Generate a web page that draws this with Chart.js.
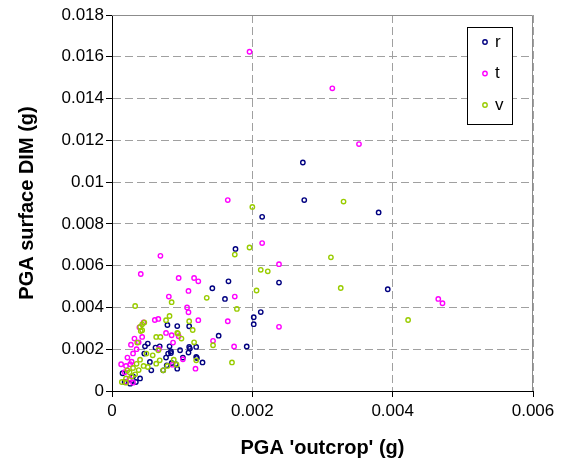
<!DOCTYPE html>
<html>
<head>
<meta charset="utf-8">
<script src="https://cdn.jsdelivr.net/npm/chart.js@4/dist/chart.umd.min.js"></script>
<style>
    body { margin: 0; background: #fff; }
    #wrap { width: 568px; height: 468px; }
</style>
</head>
<body>
<div id="wrap"><canvas id="pgaChart" width="568" height="468"></canvas></div>
<script>
// Values (g)
const seriesNames = ['r', 't', 'v'];
const seriesColors = ['#000080', '#FF00FF', '#99CC00'];

const rOutcrop = [0.00272, 0.00274, 0.00380, 0.00214, 0.00238, 0.00393, 0.00212, 0.00202, 0.00202, 0.00176,
    0.00166, 0.00143, 0.00161, 0.00093, 0.00079, 0.00110, 0.00152, 0.00120, 0.00110, 0.00192,
    0.00121, 0.00129, 0.00109, 0.00101, 0.00084, 0.00077, 0.00091, 0.00093, 0.00082, 0.00097,
    0.00047, 0.00046, 0.00018, 0.00034, 0.00015, 0.00051, 0.00062, 0.00068, 0.00080, 0.00084,
    0.00054, 0.00085, 0.00078, 0.00056, 0.00073, 0.00111, 0.00120, 0.00040, 0.00026, 0.00030];
const rSurface = [0.01094, 0.00914, 0.00855, 0.00834, 0.00519, 0.00487, 0.00378, 0.00353, 0.00320, 0.00680,
    0.00525, 0.00492, 0.00441, 0.00311, 0.00316, 0.00310, 0.00265, 0.00211, 0.00211, 0.00213,
    0.00158, 0.00137, 0.00184, 0.00160, 0.00182, 0.00160, 0.00129, 0.00107, 0.00214, 0.00195,
    0.00214, 0.00179, 0.00043, 0.00043, 0.00085, 0.00227, 0.00208, 0.00214, 0.00179, 0.00190,
    0.00139, 0.00134, 0.00123, 0.00099, 0.00099, 0.00203, 0.00163, 0.00060, 0.00035, 0.00070];

const tOutcrop = [0.00196, 0.00314, 0.00352, 0.00165, 0.00214, 0.00238, 0.00465, 0.00471, 0.00238, 0.00069,
    0.00095, 0.00117, 0.00123, 0.00041, 0.00109, 0.00175, 0.00081, 0.00107, 0.00109, 0.00066,
    0.00061, 0.00123, 0.00165, 0.00039, 0.00077, 0.00095, 0.00087, 0.00144, 0.00174, 0.00032,
    0.00043, 0.00038, 0.00119, 0.00101, 0.00067, 0.00086, 0.00027, 0.00026, 0.00013, 0.00021,
    0.00085, 0.00045, 0.00022, 0.00030, 0.00035, 0.00028, 0.00018, 0.00025, 0.00030, 0.00020];
const tSurface = [0.01624, 0.01449, 0.01182, 0.00914, 0.00708, 0.00607, 0.00441, 0.00420, 0.00307, 0.00647,
    0.00541, 0.00541, 0.00525, 0.00560, 0.00479, 0.00452, 0.00452, 0.00400, 0.00377, 0.00345,
    0.00340, 0.00339, 0.00334, 0.00305, 0.00278, 0.00262, 0.00232, 0.00240, 0.00213, 0.00251,
    0.00259, 0.00233, 0.00107, 0.00152, 0.00201, 0.00126, 0.00222, 0.00128, 0.00128, 0.00043,
    0.00267, 0.00328, 0.00160, 0.00180, 0.00200, 0.00140, 0.00090, 0.00060, 0.00040, 0.00120];

const vOutcrop = [0.00330, 0.00200, 0.00196, 0.00312, 0.00212, 0.00222, 0.00326, 0.00206, 0.00422, 0.00175,
    0.00135, 0.00085, 0.00033, 0.00178, 0.00082, 0.00077, 0.00110, 0.00046, 0.00043, 0.00043,
    0.00115, 0.00093, 0.00099, 0.00117, 0.00144, 0.00171, 0.00079, 0.00073, 0.00041, 0.00036,
    0.00022, 0.00014, 0.00020, 0.00063, 0.00069, 0.00094, 0.00066, 0.00058, 0.00049, 0.00068,
    0.00088, 0.00092, 0.00051, 0.00063, 0.00120, 0.00040, 0.00025, 0.00030, 0.00035, 0.00040,
    0.00028, 0.00033, 0.00020, 0.00038, 0.00045];
const vSurface = [0.00907, 0.00881, 0.00687, 0.00640, 0.00580, 0.00573, 0.00493, 0.00481, 0.00340, 0.00653,
    0.00446, 0.00425, 0.00407, 0.00393, 0.00359, 0.00339, 0.00334, 0.00328, 0.00319, 0.00291,
    0.00292, 0.00278, 0.00251, 0.00233, 0.00219, 0.00137, 0.00120, 0.00099, 0.00287, 0.00232,
    0.00099, 0.00043, 0.00040, 0.00259, 0.00259, 0.00275, 0.00195, 0.00171, 0.00179, 0.00147,
    0.00150, 0.00126, 0.00115, 0.00131, 0.00147, 0.00307, 0.00090, 0.00110, 0.00130, 0.00150,
    0.00070, 0.00080, 0.00060, 0.00100, 0.00120];

const xTicks = [0, 0.002, 0.004, 0.006];
const yTicks = [0, 0.002, 0.004, 0.006, 0.008, 0.01, 0.012, 0.014, 0.016, 0.018];

const FONT = 'Arial, "Liberation Sans", sans-serif';

function toPoints(xs, ys) {
    return xs.map((x, i) => ({ x: x, y: ys[i] }));
}

// gray frame on top/right + boxed legend inside the plot
const framePlugin = {
    id: 'frame',
    afterDatasetsDraw(chart) {
        const { ctx, chartArea: a } = chart;
        ctx.save();
        ctx.strokeStyle = '#8c8c8c';
        ctx.lineWidth = 1;
        ctx.beginPath();
        ctx.moveTo(a.left, a.top + 0.5);
        ctx.lineTo(a.right - 0.5, a.top + 0.5);
        ctx.lineTo(a.right - 0.5, a.bottom);
        ctx.stroke();
        ctx.restore();
    },
    afterDraw(chart) {
        const { ctx, chartArea: a } = chart;
        const boxL = a.right - 66, boxT = a.top + 12;
        const boxW = 45, boxH = 97;
        ctx.save();
        ctx.fillStyle = '#fff';
        ctx.fillRect(boxL, boxT, boxW, boxH);
        ctx.strokeStyle = '#000';
        ctx.lineWidth = 1;
        ctx.strokeRect(boxL + 0.5, boxT + 0.5, boxW, boxH);
        ctx.font = '17px ' + FONT;
        ctx.textBaseline = 'middle';
        chart.data.datasets.forEach((ds, i) => {
            const cy = boxT + 15 + i * 31.5;
            ctx.beginPath();
            ctx.arc(boxL + 18, cy, 2.2, 0, Math.PI * 2);
            ctx.strokeStyle = ds.borderColor;
            ctx.lineWidth = 1.4;
            ctx.stroke();
            ctx.fillStyle = '#000';
            ctx.fillText(ds.label, boxL + 28, cy);
        });
        ctx.restore();
    }
};

const seriesData = [
    toPoints(rOutcrop, rSurface),
    toPoints(tOutcrop, tSurface),
    toPoints(vOutcrop, vSurface)
];

const datasets = seriesNames.map((name, i) => ({
    label: name,
    data: seriesData[i],
    borderColor: seriesColors[i],
    backgroundColor: 'rgba(0,0,0,0)',
    pointRadius: 2.2,
    pointBorderWidth: 1.4,
    pointHoverRadius: 2.2,
    order: seriesNames.length - i
}));

function tickLabel(v) {
    return String(Number(v.toFixed(3)));
}

const ctx = document.getElementById('pgaChart').getContext('2d');
new Chart(ctx, {
    type: 'scatter',
    data: { datasets: datasets },
    plugins: [framePlugin],
    options: {
        responsive: false,
        animation: false,
        layout: { padding: { left: 0, top: 15, right: 35, bottom: 0 } },
        plugins: {
            legend: { display: false },
            tooltip: { enabled: false }
        },
        scales: {
            x: {
                type: 'linear',
                min: xTicks[0],
                max: xTicks[xTicks.length - 1],
                afterBuildTicks(scale) { scale.ticks = xTicks.map(v => ({ value: v })); },
                afterFit(scale) { scale.height = 77; },
                ticks: {
                    callback: tickLabel,
                    color: '#000',
                    font: { family: FONT, size: 17 },
                    padding: 4,
                    maxRotation: 0
                },
                grid: {
                    color: '#a0a0a0',
                    lineWidth: 1,
                    tickColor: '#000',
                    tickLength: 6,
                    tickBorderDash: []
                },
                border: { color: '#000', width: 1, dash: [8, 4] },
                title: {
                    display: true,
                    text: "PGA 'outcrop' (g)",
                    color: '#000',
                    font: { family: FONT, size: 20, weight: 'bold' },
                    padding: { top: 0, bottom: 8 }
                }
            },
            y: {
                type: 'linear',
                min: yTicks[0],
                max: yTicks[yTicks.length - 1],
                afterBuildTicks(scale) { scale.ticks = yTicks.map(v => ({ value: v })); },
                afterFit(scale) { scale.width = 112; },
                ticks: {
                    callback: tickLabel,
                    color: '#000',
                    font: { family: FONT, size: 17 },
                    padding: 2
                },
                grid: {
                    color: '#a0a0a0',
                    lineWidth: 1,
                    tickColor: '#000',
                    tickLength: 6,
                    tickBorderDash: []
                },
                border: { color: '#000', width: 1, dash: [8, 4] },
                title: {
                    display: true,
                    text: 'PGA surface DIM (g)',
                    color: '#000',
                    font: { family: FONT, size: 20, weight: 'bold' },
                    padding: { top: 15, bottom: 0 }
                }
            }
        }
    }
});
</script>
</body>
</html>
